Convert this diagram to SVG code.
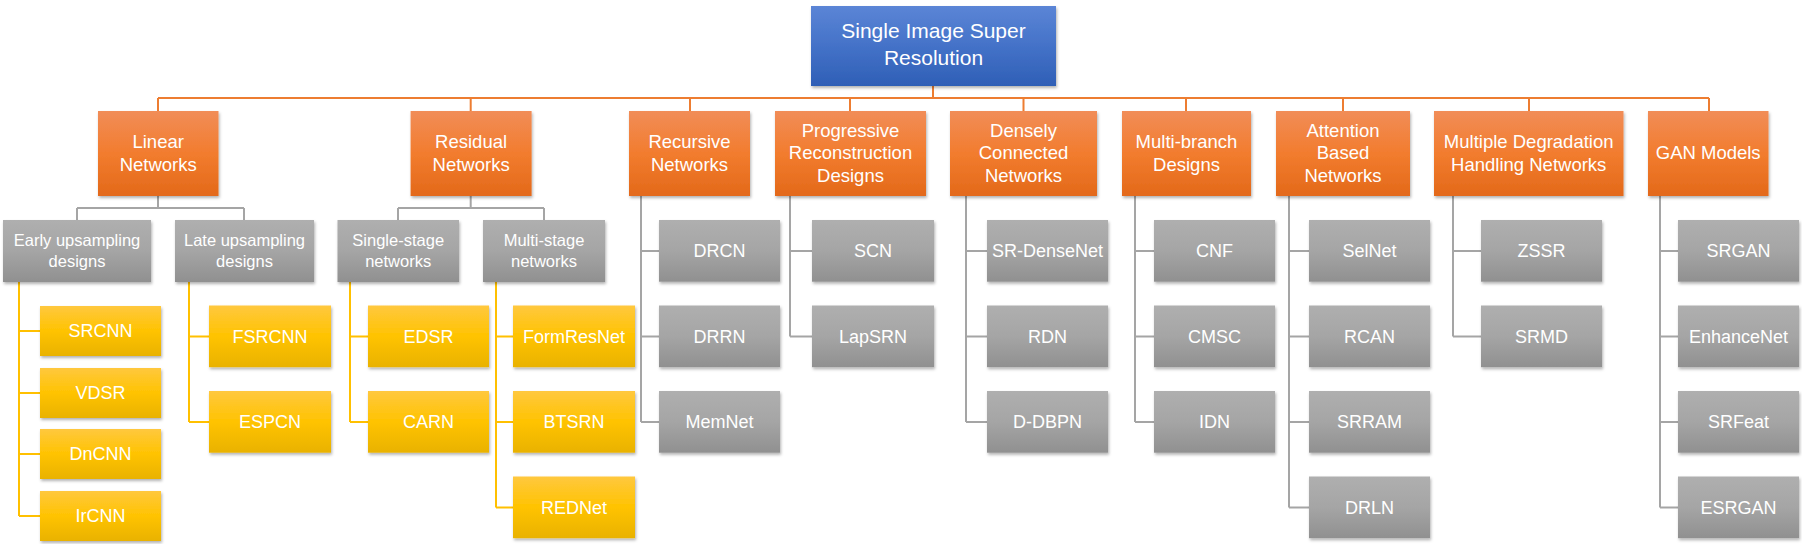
<svg xmlns="http://www.w3.org/2000/svg" width="1802" height="544" viewBox="0 0 1802 544">
<style>
text{font-family:"Liberation Sans",Arial,sans-serif;fill:#ffffff;text-anchor:middle}
.root{font-size:21px}
.l1{font-size:18.5px}
.l2{font-size:16.5px}
.lf{font-size:18px}
.co{fill:none;stroke:#ED7D31;stroke-width:2}
.cg{fill:none;stroke:#A5A5A5;stroke-width:2}
.cy{fill:none;stroke:#FFC000;stroke-width:2}
.b{fill:url(#gb);filter:url(#sh)}
.o{fill:url(#go);filter:url(#sh)}
.g{fill:url(#gg);filter:url(#sh)}
.y{fill:url(#gy);filter:url(#sh)}
</style>
<defs>
<linearGradient id="gb" x1="0" y1="0" x2="0" y2="1"><stop offset="0" stop-color="#5B85D6"/><stop offset="0.5" stop-color="#4472C8"/><stop offset="1" stop-color="#2F5FB6"/></linearGradient>
<linearGradient id="go" x1="0" y1="0" x2="0" y2="1"><stop offset="0" stop-color="#F18D58"/><stop offset="0.5" stop-color="#F27C2E"/><stop offset="1" stop-color="#E3691A"/></linearGradient>
<linearGradient id="gg" x1="0" y1="0" x2="0" y2="1"><stop offset="0" stop-color="#AFAFAF"/><stop offset="0.5" stop-color="#A5A5A5"/><stop offset="1" stop-color="#909090"/></linearGradient>
<linearGradient id="gy" x1="0" y1="0" x2="0" y2="1"><stop offset="0" stop-color="#FFC83F"/><stop offset="0.5" stop-color="#FFC300"/><stop offset="1" stop-color="#E9B200"/></linearGradient>
<filter id="sh" x="-10%" y="-10%" width="130%" height="140%"><feDropShadow dx="1" dy="2" stdDeviation="1.5" flood-color="#000" flood-opacity="0.3"/></filter>
</defs>

<g id="connectors">
<path class="co" d="M933,86V98M158,98H1709M158,98V111M470.7,98V111M690,98V111M850,98V111M1023.5,98V111M1186,98V111M1343,98V111M1529,98V111M1709,98V111"/>
<path class="cg" d="M158,196V208M77,208H244M77,208V220M244,208V220"/>
<path class="cg" d="M470.7,196V208M398,208H544M398,208V220M544,208V220"/>
<path class="cy" d="M19,282V516M19,331H40M19,393H40M19,454H40M19,516H40"/>
<path class="cy" d="M189,282V422M189,336.5H209M189,422H209"/>
<path class="cy" d="M350,282V422M350,336.5H368M350,422H368"/>
<path class="cy" d="M496,282V507.5M496,336.5H513M496,422H513M496,507.5H513"/>
<path class="cg" d="M641,196V422M641,251H659M641,336.5H659M641,422H659"/>
<path class="cg" d="M790,196V336.5M790,251H812M790,336.5H812"/>
<path class="cg" d="M966,196V422M966,251H987M966,336.5H987M966,422H987"/>
<path class="cg" d="M1135,196V422M1135,251H1154M1135,336.5H1154M1135,422H1154"/>
<path class="cg" d="M1289,196V507.5M1289,251H1309M1289,336.5H1309M1289,422H1309M1289,507.5H1309"/>
<path class="cg" d="M1453,196V336.5M1453,251H1481M1453,336.5H1481"/>
<path class="cg" d="M1660,196V507.5M1660,251H1678M1660,336.5H1678M1660,422H1678M1660,507.5H1678"/>
</g>

<g id="n-root"><rect class="b" x="811" y="6" width="245" height="80"/><text class="root" x="933.5" y="38">Single Image Super</text><text class="root" x="933.5" y="65">Resolution</text></g>

<g id="n-linear"><rect class="o" x="98" y="111" width="120.5" height="85"/><text class="l1" x="158.2" y="148.2">Linear</text><text class="l1" x="158.2" y="170.7">Networks</text></g>
<g id="n-residual"><rect class="o" x="410.6" y="111" width="121" height="85"/><text class="l1" x="471.1" y="148.2">Residual</text><text class="l1" x="471.1" y="170.7">Networks</text></g>
<g id="n-recursive"><rect class="o" x="629" y="111" width="121" height="85"/><text class="l1" x="689.5" y="148.2">Recursive</text><text class="l1" x="689.5" y="170.7">Networks</text></g>
<g id="n-progressive"><rect class="o" x="775" y="111" width="151" height="85"/><text class="l1" x="850.5" y="136.5">Progressive</text><text class="l1" x="850.5" y="159.3">Reconstruction</text><text class="l1" x="850.5" y="182.1">Designs</text></g>
<g id="n-densely"><rect class="o" x="950" y="111" width="147" height="85"/><text class="l1" x="1023.5" y="136.5">Densely</text><text class="l1" x="1023.5" y="159.3">Connected</text><text class="l1" x="1023.5" y="182.1">Networks</text></g>
<g id="n-multibranch"><rect class="o" x="1122" y="111" width="129" height="85"/><text class="l1" x="1186.5" y="148.2">Multi-branch</text><text class="l1" x="1186.5" y="170.7">Designs</text></g>
<g id="n-attention"><rect class="o" x="1276" y="111" width="134" height="85"/><text class="l1" x="1343" y="136.5">Attention</text><text class="l1" x="1343" y="159.3">Based</text><text class="l1" x="1343" y="182.1">Networks</text></g>
<g id="n-multideg"><rect class="o" x="1434" y="111" width="189.5" height="85"/><text class="l1" x="1528.7" y="148.2">Multiple Degradation</text><text class="l1" x="1528.7" y="170.7">Handling Networks</text></g>
<g id="n-gan"><rect class="o" x="1648" y="111" width="120.5" height="85"/><text class="l1" x="1708.2" y="159.3">GAN Models</text></g>

<g id="n-early"><rect class="g" x="3" y="220" width="148" height="62"/><text class="l2" x="77" y="246">Early upsampling</text><text class="l2" x="77" y="266.5">designs</text></g>
<g id="n-late"><rect class="g" x="175" y="220" width="139" height="62"/><text class="l2" x="244.5" y="246">Late upsampling</text><text class="l2" x="244.5" y="266.5">designs</text></g>
<g id="n-single"><rect class="g" x="337.5" y="220" width="121.5" height="62"/><text class="l2" x="398.2" y="246">Single-stage</text><text class="l2" x="398.2" y="266.5">networks</text></g>
<g id="n-multistage"><rect class="g" x="483" y="220" width="122" height="62"/><text class="l2" x="544" y="246">Multi-stage</text><text class="l2" x="544" y="266.5">networks</text></g>

<g id="n-srcnn"><rect class="y" x="40" y="306" width="121" height="50"/><text class="lf" x="100.5" y="337.4">SRCNN</text></g>
<g id="n-vdsr"><rect class="y" x="40" y="368" width="121" height="50"/><text class="lf" x="100.5" y="399.4">VDSR</text></g>
<g id="n-dncnn"><rect class="y" x="40" y="429" width="121" height="50"/><text class="lf" x="100.5" y="460.4">DnCNN</text></g>
<g id="n-ircnn"><rect class="y" x="40" y="491" width="121" height="50"/><text class="lf" x="100.5" y="522.4">IrCNN</text></g>
<g id="n-fsrcnn"><rect class="y" x="209" y="305.5" width="122" height="61.7"/><text class="lf" x="270" y="342.9">FSRCNN</text></g>
<g id="n-espcn"><rect class="y" x="209" y="391" width="122" height="61.7"/><text class="lf" x="270" y="428.4">ESPCN</text></g>
<g id="n-edsr"><rect class="y" x="368" y="305.5" width="121" height="61.7"/><text class="lf" x="428.5" y="342.9">EDSR</text></g>
<g id="n-carn"><rect class="y" x="368" y="391" width="121" height="61.7"/><text class="lf" x="428.5" y="428.4">CARN</text></g>
<g id="n-formresnet"><rect class="y" x="513" y="305.5" width="122" height="61.7"/><text class="lf" x="574" y="342.9">FormResNet</text></g>
<g id="n-btsrn"><rect class="y" x="513" y="391" width="122" height="61.7"/><text class="lf" x="574" y="428.4">BTSRN</text></g>
<g id="n-rednet"><rect class="y" x="513" y="476.5" width="122" height="61.7"/><text class="lf" x="574" y="513.9">REDNet</text></g>

<g id="n-drcn"><rect class="g" x="659" y="220" width="121" height="61.7"/><text class="lf" x="719.5" y="257.4">DRCN</text></g>
<g id="n-drrn"><rect class="g" x="659" y="305.5" width="121" height="61.7"/><text class="lf" x="719.5" y="342.9">DRRN</text></g>
<g id="n-memnet"><rect class="g" x="659" y="391" width="121" height="61.7"/><text class="lf" x="719.5" y="428.4">MemNet</text></g>
<g id="n-scn"><rect class="g" x="812" y="220" width="122" height="61.7"/><text class="lf" x="873" y="257.4">SCN</text></g>
<g id="n-lapsrn"><rect class="g" x="812" y="305.5" width="122" height="61.7"/><text class="lf" x="873" y="342.9">LapSRN</text></g>
<g id="n-srdensenet"><rect class="g" x="987" y="220" width="121" height="61.7"/><text class="lf" x="1047.5" y="257.4">SR-DenseNet</text></g>
<g id="n-rdn"><rect class="g" x="987" y="305.5" width="121" height="61.7"/><text class="lf" x="1047.5" y="342.9">RDN</text></g>
<g id="n-ddbpn"><rect class="g" x="987" y="391" width="121" height="61.7"/><text class="lf" x="1047.5" y="428.4">D-DBPN</text></g>
<g id="n-cnf"><rect class="g" x="1154" y="220" width="121" height="61.7"/><text class="lf" x="1214.5" y="257.4">CNF</text></g>
<g id="n-cmsc"><rect class="g" x="1154" y="305.5" width="121" height="61.7"/><text class="lf" x="1214.5" y="342.9">CMSC</text></g>
<g id="n-idn"><rect class="g" x="1154" y="391" width="121" height="61.7"/><text class="lf" x="1214.5" y="428.4">IDN</text></g>
<g id="n-selnet"><rect class="g" x="1309" y="220" width="121" height="61.7"/><text class="lf" x="1369.5" y="257.4">SelNet</text></g>
<g id="n-rcan"><rect class="g" x="1309" y="305.5" width="121" height="61.7"/><text class="lf" x="1369.5" y="342.9">RCAN</text></g>
<g id="n-srram"><rect class="g" x="1309" y="391" width="121" height="61.7"/><text class="lf" x="1369.5" y="428.4">SRRAM</text></g>
<g id="n-drln"><rect class="g" x="1309" y="476.5" width="121" height="61.7"/><text class="lf" x="1369.5" y="513.9">DRLN</text></g>
<g id="n-zssr"><rect class="g" x="1481" y="220" width="121" height="61.7"/><text class="lf" x="1541.5" y="257.4">ZSSR</text></g>
<g id="n-srmd"><rect class="g" x="1481" y="305.5" width="121" height="61.7"/><text class="lf" x="1541.5" y="342.9">SRMD</text></g>
<g id="n-srgan"><rect class="g" x="1678" y="220" width="121" height="61.7"/><text class="lf" x="1738.5" y="257.4">SRGAN</text></g>
<g id="n-enhancenet"><rect class="g" x="1678" y="305.5" width="121" height="61.7"/><text class="lf" x="1738.5" y="342.9">EnhanceNet</text></g>
<g id="n-srfeat"><rect class="g" x="1678" y="391" width="121" height="61.7"/><text class="lf" x="1738.5" y="428.4">SRFeat</text></g>
<g id="n-esrgan"><rect class="g" x="1678" y="476.5" width="121" height="61.7"/><text class="lf" x="1738.5" y="513.9">ESRGAN</text></g>
</svg>
